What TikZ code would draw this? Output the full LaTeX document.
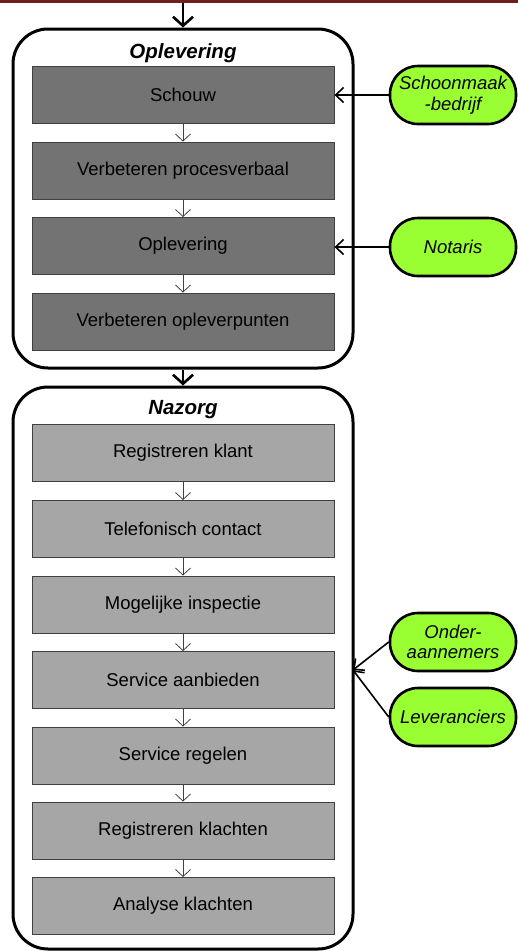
\documentclass[tikz,border=0pt]{standalone}
\usepackage{fontspec}
\setmainfont{Liberation Sans}
\usetikzlibrary{arrows.meta}
\definecolor{barred}{HTML}{6E1F1F}
\definecolor{partygreen}{HTML}{99FF33}
\begin{document}
\begin{tikzpicture}[x=1pt,y=-1pt,
  lbl/.style={font=\fontsize{18.5}{21}\selectfont},
  stepdark/.style={draw=black!75, line width=0.9pt, fill=black!55,
    minimum width=302pt, minimum height=57pt, inner sep=0pt, lbl, text=black},
  steplight/.style={stepdark, fill=black!35},
  phase/.style={draw, line width=3pt, rounded corners=35pt,
    minimum width=340pt, inner sep=0pt},
  phasetitle/.style={font=\fontsize{20.5}{24}\selectfont\bfseries\itshape},
  party/.style={draw, line width=2.6pt, fill=partygreen, rounded corners=28pt,
    minimum width=126pt, minimum height=58pt, inner sep=0pt, align=center,
    font=\fontsize{18.5}{20.5}\selectfont\itshape},
  flow/.style={draw=black!75, line width=0.8pt,
    -{Straight Barb[length=7pt,width=15pt]}},
  phaseflow/.style={draw, line width=2.6pt,
    -{Straight Barb[length=9pt,width=20pt]}},
  feed/.style={draw, line width=1.6pt,
    -{Straight Barb[length=8pt,width=15pt]}}
]
\useasboundingbox (0,0) rectangle (518,951);
\fill[barred] (0,0) rectangle (518,3);

% phase frames
\node[phase, minimum height=339pt] (oplframe) at (183,198.5) {};
\node[phase, minimum height=562pt] (nazframe) at (183,668) {};
\node[phasetitle] (opltitle) at (183,53) {Oplevering};
\node[phasetitle] (naztitle) at (183,410) {Nazorg};

% Oplevering steps
\node[stepdark] (schouw) at (183,94.5) {Schouw};
\node[stepdark] (pv)     at (183,170.5) {Verbeteren procesverbaal};
\node[stepdark] (oplev)  at (183,246) {Oplevering};
\node[stepdark] (punten) at (183,321.5) {Verbeteren opleverpunten};

% Nazorg steps
\node[steplight] (klant)    at (183,453) {Registreren klant};
\node[steplight] (tel)      at (183,529) {Telefonisch contact};
\node[steplight] (insp)     at (183,604.5) {Mogelijke inspectie};
\node[steplight] (aanbod)   at (183,680) {Service aanbieden};
\node[steplight] (regel)    at (183,755.5) {Service regelen};
\node[steplight] (klachten) at (183,830.5) {Registreren klachten};
\node[steplight] (analyse)  at (183,906) {Analyse klachten};

% external parties
\node[party] (schoon) at (453,95)  {Schoonmaak\\-bedrijf};
\node[party] (notaris) at (453,247) {Notaris};
\node[party] (onder)  at (453,642) {Onder-\\aannemers};
\node[party] (lever)  at (453,717) {Leveranciers};

% flow between phases
\coordinate (start) at (183,3);
\draw[phaseflow] (start) -- (oplframe.north);
\draw[phaseflow] (oplframe.south) -- (nazframe.north);

% flow between steps
\foreach \a/\b in {schouw/pv, pv/oplev, oplev/punten,
                   klant/tel, tel/insp, insp/aanbod, aanbod/regel,
                   regel/klachten, klachten/analyse}
  \draw[flow] (\a.south) -- (\b.north);

% parties feeding the process
\draw[feed] (schoon.west) -- (schoon.west -| schouw.east);
\draw[feed] (notaris.west) -- (notaris.west -| oplev.east);
\coordinate (joint) at (353,670);
\draw[feed] (onder.west) -- (joint);
\draw[feed] (lever.west) -- (joint);
\end{tikzpicture}
\end{document}
